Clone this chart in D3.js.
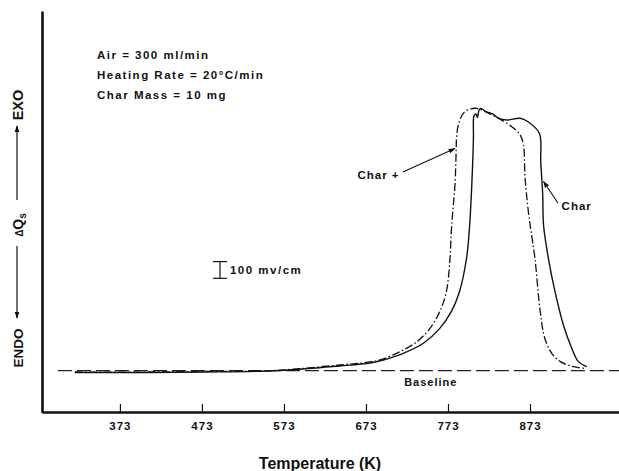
<!DOCTYPE html>
<html>
<head>
<meta charset="utf-8">
<script src="https://cdn.jsdelivr.net/npm/d3@7"></script>
<style>
  html, body { margin: 0; padding: 0; background: #fff; }
  svg { display: block; }
  text { font-family: "Liberation Sans", Arial, Helvetica, sans-serif; font-weight: bold; fill: #111; }
</style>
</head>
<body>
<svg id="chart" width="619" height="471"></svg>
<script>
// ---- Data (temperature in K, ΔQs in mV relative to baseline) ----
const tempTicks = [373, 473, 573, 673, 773, 873];

const charPlusT = [318, 410, 471, 560, 641, 678, 690, 714.5, 735, 751, 763, 771, 775.5, 777, 779, 781.5, 783, 783.4, 785.6, 791.7, 800, 808, 817, 826.7, 836.4, 850.7, 861, 865, 867, 871, 874, 879, 885, 891, 899.5, 910, 926, 940];
const charPlusQ = [-8, -8, -5, 1, 34, 52, 64, 114, 173, 253, 353, 472, 672, 829, 960, 1109, 1319, 1391, 1469, 1538, 1564, 1568, 1552, 1528, 1504, 1458, 1409, 1349, 1150, 950, 841, 672, 373, 194, 104, 54, 24, 14];

const charT = [318, 410, 471, 560, 641, 678, 694, 718.5, 743, 763, 777, 787, 795.6, 799, 802, 804, 804, 804.7, 807.1, 809, 810.8, 813.2, 819.3, 827.9, 834.4, 844.6, 860.8, 870.6, 884.4, 886.1, 888.5, 889.5, 895.4, 903.5, 913.7, 923.9, 932, 942.2];
const charQ = [-11, -11, -8, -1, 28, 46, 64, 104, 164, 253, 353, 472, 672, 841, 1110, 1391, 1499, 1523, 1535, 1513, 1558, 1567, 1549, 1534, 1509, 1498, 1509, 1488, 1419, 1249, 1050, 871, 672, 472, 273, 134, 54, 24];

const baselineT = [297.4, 981.5];
const baselineQ = [0, 0];

const notes = ["Air = 300 ml/min", "Heating Rate = 20°C/min", "Char Mass = 10 mg"];
const xTitle = "Temperature (K)";
const scaleBarLabel = "100 mv/cm";
const scaleBarMV = 100;

// ---- Layout ----
const svg = d3.select("#chart");
const x = d3.scaleLinear().domain([278, 981.5]).range([42, 619]);
const y = d3.scaleLinear().domain([-250, 2150]).range([412.5, 11]);

const defs = svg.append("defs");
defs.append("marker").attr("id", "ah").attr("viewBox", "0 0 10 10")
  .attr("refX", 9).attr("refY", 5).attr("markerWidth", 7).attr("markerHeight", 7)
  .attr("markerUnits", "userSpaceOnUse").attr("orient", "auto")
  .append("path").attr("d", "M0,1.5 L10,5 L0,8.5 Z").attr("fill", "#111");

// Axes
const xAxis = d3.axisBottom(x).tickValues(tempTicks).tickSizeInner(-8).tickSizeOuter(0).tickPadding(10);
const gx = svg.append("g").attr("transform", `translate(0,${y(-250) - 0.5})`).call(xAxis);
gx.select(".domain").attr("stroke", "#111").attr("stroke-width", 2.6);
gx.selectAll(".tick line").attr("stroke", "#111").attr("stroke-width", 1.2);
gx.selectAll(".tick text").attr("font-size", 11.5).attr("letter-spacing", 1)
  .style("font-family", "'Liberation Sans', Arial, sans-serif").style("font-weight", "bold").attr("fill", "#111");

const yAxis = d3.axisLeft(y).tickValues([]).tickSizeOuter(0);
const gy = svg.append("g").attr("transform", `translate(${x(278)},0)`).call(yAxis);
gy.select(".domain").attr("stroke", "#111").attr("stroke-width", 2.6);

// Baseline
const line = d3.line().x(d => x(d[0])).y(d => y(d[1]));
svg.append("path").datum(d3.zip(baselineT, baselineQ))
  .attr("d", line).attr("fill", "none").attr("stroke", "#222")
  .attr("stroke-width", 1.3).attr("stroke-dasharray", "14,5");

// Curves
const curve = d3.line().x(d => x(d[0])).y(d => y(d[1])).curve(d3.curveCatmullRom.alpha(0.5));
svg.append("path").datum(d3.zip(charT, charQ))
  .attr("d", curve).attr("fill", "none").attr("stroke", "#111").attr("stroke-width", 1.4);
svg.append("path").datum(d3.zip(charPlusT, charPlusQ))
  .attr("d", curve).attr("fill", "none").attr("stroke", "#111").attr("stroke-width", 1.3)
  .attr("stroke-dasharray", "8,2.5,1.5,2.5");

// Curve labels + arrows
svg.append("line").attr("x1", x(718)).attr("y1", y(1187)).attr("x2", x(781.5)).attr("y2", y(1328))
  .attr("stroke", "#111").attr("stroke-width", 1.1).attr("marker-end", "url(#ah)");
svg.append("text").attr("x", x(714)).attr("y", y(1170)).attr("dy", "0.35em")
  .attr("text-anchor", "end").attr("font-size", 11.5).attr("letter-spacing", 1).text("Char +");

svg.append("line").attr("x1", x(907)).attr("y1", y(1002)).attr("x2", x(889.5)).attr("y2", y(1131))
  .attr("stroke", "#111").attr("stroke-width", 1.1).attr("marker-end", "url(#ah)");
svg.append("text").attr("x", x(911.5)).attr("y", y(984)).attr("dy", "0.35em")
  .attr("font-size", 11.5).attr("letter-spacing", 1).text("Char");

svg.append("text").attr("x", x(752)).attr("y", y(-66)).attr("dy", "0.35em")
  .attr("text-anchor", "middle").attr("font-size", 11).attr("letter-spacing", 1).text("Baseline");

// Scale bar
const sbX = x(495), sb0 = y(552), sb1 = y(552 + scaleBarMV);
const sb = svg.append("g").attr("stroke", "#111").attr("stroke-width", 1.2);
sb.append("line").attr("x1", sbX).attr("x2", sbX).attr("y1", sb0).attr("y2", sb1);
sb.append("line").attr("x1", sbX - 7).attr("x2", sbX + 7).attr("y1", sb0).attr("y2", sb0);
sb.append("line").attr("x1", sbX - 7).attr("x2", sbX + 7).attr("y1", sb1).attr("y2", sb1);
svg.append("text").attr("x", sbX + 10).attr("y", (sb0 + sb1) / 2).attr("dy", "0.35em")
  .attr("font-size", 11.5).attr("letter-spacing", 1.5).text(scaleBarLabel);

// Notes
svg.selectAll("text.note").data(notes).join("text").attr("class", "note")
  .attr("x", 97).attr("y", (d, i) => 55 + i * 20).attr("dy", "0.35em")
  .attr("font-size", 11.5).attr("letter-spacing", 1.5).text(d => d);

// X title
svg.append("text").attr("x", 320).attr("y", 463).attr("dy", "0.35em")
  .attr("text-anchor", "middle").attr("font-size", 16).text(xTitle);

// Y label: ENDO ← ΔQs → EXO (vertical)
const yl = svg.append("g");
yl.append("text").attr("transform", "translate(18,105) rotate(-90)")
  .attr("text-anchor", "middle").attr("dy", "0.35em").attr("font-size", 14.5).text("EXO");
yl.append("line").attr("x1", 17).attr("x2", 17).attr("y1", 200).attr("y2", 126)
  .attr("stroke", "#111").attr("stroke-width", 1.2).attr("marker-end", "url(#ah)");
const dq = yl.append("text").attr("transform", "translate(18,225) rotate(-90)")
  .attr("text-anchor", "middle").attr("dy", "0.35em").attr("font-size", 14);
dq.append("tspan").attr("font-size", 10).text("Δ");
dq.append("tspan").text("Q");
dq.append("tspan").attr("font-size", 10).attr("dy", "0.3em").text("s");
yl.append("line").attr("x1", 17).attr("x2", 17).attr("y1", 246).attr("y2", 318)
  .attr("stroke", "#111").attr("stroke-width", 1.2).attr("marker-end", "url(#ah)");
yl.append("text").attr("transform", "translate(18,348) rotate(-90)")
  .attr("text-anchor", "middle").attr("dy", "0.35em").attr("font-size", 13.5).text("ENDO");
</script>
</body>
</html>
